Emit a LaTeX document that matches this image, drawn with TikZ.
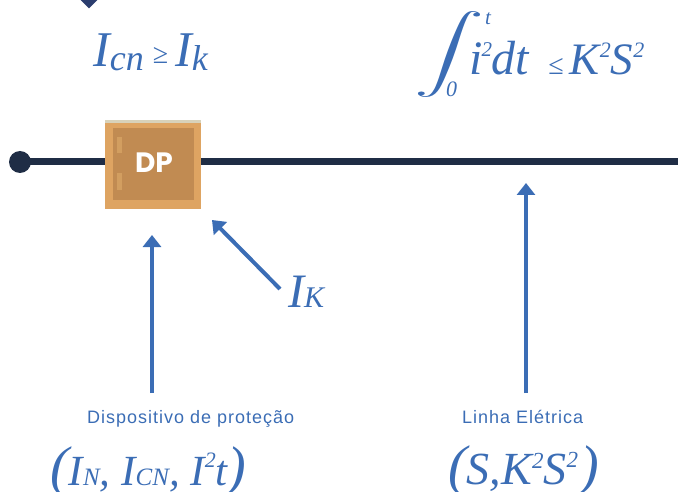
\documentclass[tikz,border=0pt]{standalone}
\usepackage{fontspec}
\setmainfont{Liberation Serif}
\newfontfamily\sansf{Liberation Sans}[LetterSpace=5.5]
\newfontfamily\popp{Poppins}
\usepackage{graphicx}
\usetikzlibrary{arrows.meta}
\definecolor{navy}{HTML}{2B3D6E}
\definecolor{wire}{HTML}{1F2D45}
\definecolor{blu}{HTML}{3B6DB5}
\definecolor{boxout}{HTML}{DEA462}
\definecolor{boxin}{HTML}{C18B52}
\definecolor{boxbar}{HTML}{D29E60}
\definecolor{boxtop}{HTML}{D8D2BA}
\newcommand\fs[1]{\fontsize{#1}{#1}\selectfont}
\newcommand\dn[3]{\raisebox{-#1pt}{\fs{#2}#3}}
\newcommand\up[3]{\raisebox{#1pt}{\fs{#2}#3}}
\tikzset{
  wireline/.style={draw=wire, line width=7pt},
  dotnode/.style={circle, fill=wire, minimum size=22pt, inner sep=0pt},
  dpbox/.style={rectangle, fill=boxout, minimum width=96pt, minimum height=89pt, inner sep=0pt},
  bluarrow/.style={draw=blu, line width=4pt, -{Triangle[width=18pt,length=12pt]}},
  formula/.style={anchor=base west, inner sep=0pt, text=blu},
  label/.style={anchor=base west, inner sep=0pt, text=blu, font=\sansf\fs{18}}
}
\begin{document}
\begin{tikzpicture}[x=1pt,y=-1pt]
\useasboundingbox (0,0) rectangle (678,492);
% top diamond (cut off)
\fill[navy] (89,-10.5) -- (98.5,-1) -- (89,8.5) -- (79.5,-1) -- cycle;
% wire
\node[dotnode] (dot) at (20,162) {};
\coordinate (lineend) at (678,162);
\draw[wireline] (dot.center) -- (lineend);
% DP box
\node[dpbox] (dp) at (153,164.5) {};
\fill[boxtop] (105,120) rectangle (201,122.7);
\fill[boxin] (113,128) rectangle (194,200);
\fill[boxbar] (117,137) rectangle (122,153);
\fill[boxbar] (117,173) rectangle (122,190);
\node[text=white, font=\popp\bfseries\fs{28}, inner sep=0pt] (dplabel) at (154,162.5) {DP};
% formulas
\node[formula] (f1) at (93,67) {\fs{50}\itshape I\dn{4}{36}{cn}\hspace{9pt}\up{3}{28}{\upshape ≥}\hspace{7pt}I\dn{4}{36}{k}};
\node[text=blu, inner sep=0pt] (intg) at (449,54.5) {\resizebox*{70pt}{86pt}{$\displaystyle\int$}};
\node[formula] (ilow) at (446,97) {\fs{22}\itshape 0};
\node[formula] (iup) at (485,25) {\fs{21}\itshape t};
\node[formula] (intbody) at (469,75) {\fs{48}\itshape i\hspace{-1pt}\up{18}{21}{2}\hspace{-1pt}dt\hspace{20pt}\up{0}{28}{\upshape ≤}\hspace{6pt}\fs{45}K\up{17}{22}{2}S\up{17}{22}{2}};
\node[formula] (ik) at (288,307) {\fs{48}\itshape I\dn{0}{30}{K}};
\node[formula] (f3) at (50,485) {\fs{43}\itshape \fs{56}(\fs{43}I\dn{0}{25}{N}, I\dn{0}{25}{CN}, I\up{18}{22}{2}t\fs{56})};
\node[formula] (f4) at (448,484) {\fs{46}\itshape \fs{56}(\fs{46}S,K\up{16}{23}{2}S\up{17}{23}{2}\hspace{2pt}\fs{56})};
% labels
\node[label] (lab1) at (87,423) {Dispositivo de proteção};
\node[label] (lab2) at (462,423) {Linha Elétrica};
% arrows
\coordinate (a1s) at (152,393);
\coordinate (a1e) at (152,235);
\coordinate (a2s) at (526,393);
\coordinate (a2e) at (526,183);
\coordinate (a3s) at (280,289);
\coordinate (a3e) at (212,220);
\draw[bluarrow] (a1s) -- (a1e);
\draw[bluarrow] (a2s) -- (a2e);
\draw[bluarrow] (a3s) -- (a3e);
\end{tikzpicture}
\end{document}
